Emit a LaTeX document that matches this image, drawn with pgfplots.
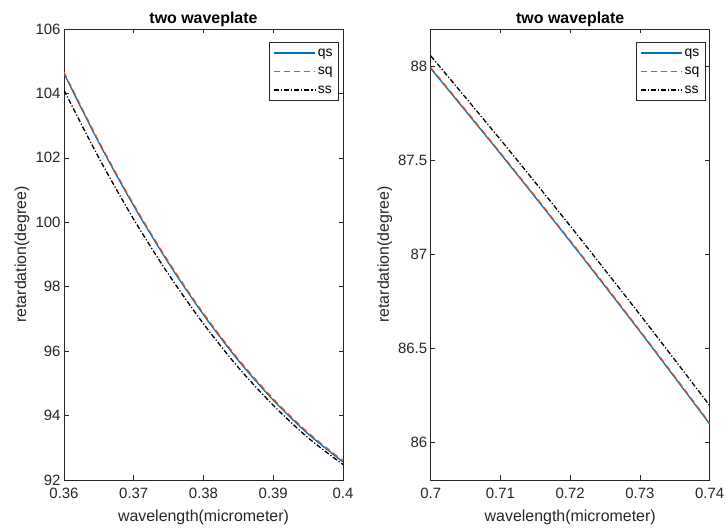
\documentclass[border=0pt]{standalone}
\usepackage{fontspec}
\setmainfont{Liberation Sans}
\usepackage{pgfplots}
\pgfplotsset{compat=1.18}
\definecolor{mblue}{rgb}{0,0.447,0.741}
\definecolor{morange}{rgb}{0.85,0.325,0.098}
\definecolor{maxis}{rgb}{0.15,0.15,0.15}
\pgfplotsset{
  mystyle/.style={
    scale only axis,
    width=279bp, height=451bp,
    axis line style={maxis, line width=0.6bp},
    tick style={maxis, line width=0.6bp},
    tick align=inside,
    major tick length=4.5bp,
    scaled ticks=false,
    /pgf/number format/assume math mode=true,
    tick label style={font=\fontsize{15}{18}\selectfont, text=maxis},
    xticklabel style={yshift=-5bp},
    label style={font=\fontsize{16}{19}\selectfont, text=maxis},
    title style={font=\fontsize{16}{19}\selectfont\bfseries, at={(axis description cs:0.5,1)}, anchor=south, yshift=-7bp},
    xlabel style={at={(axis description cs:0.5,-0.082)}, anchor=center},
    legend style={at={(axis description cs:1,1)}, anchor=north east, xshift=-4bp, yshift=-13bp,
      draw=maxis, line width=0.6bp, font=\fontsize{14}{16}\selectfont, inner xsep=3.5bp, inner ysep=1.5bp, row sep=0bp,
      nodes={inner xsep=2.5bp, inner ysep=3.25bp, text height=9bp, text depth=3bp}},
    legend cell align=left,
    legend image code/.code={\draw[#1] (0bp,0bp) -- (41bp,0bp);},
  },
  qsline/.style={color=mblue, line width=1.3bp, solid},
  sqline/.style={color=morange, line width=1.3bp, dash pattern=on 6bp off 4bp},
  ssline/.style={color=black, line width=1.3bp, dash pattern=on 5bp off 2bp on 1.2bp off 2bp},
}
\begin{document}
\begin{tikzpicture}[x=1bp,y=1bp]
\useasboundingbox (0,0) rectangle (727,531);
\begin{axis}[mystyle, at={(64bp,51bp)}, anchor=south west,
  xmin=0.36, xmax=0.4, ymin=92, ymax=106,
  xtick={0.36,0.37,0.38,0.39,0.4},
  ytick={92,94,96,98,100,102,104,106},
  title={two waveplate},
  xlabel={wavelength(micrometer)},
  ylabel={retardation(degree)},
  ylabel style={at={(axis description cs:-0.1505,0.5)}, anchor=center},
]
\addlegendimage{qsline}
\addlegendentry{qs\hspace{5bp}}
\addlegendimage{sqline}
\addlegendentry{sq\hspace{5bp}}
\addlegendimage{ssline}
\addlegendentry{ss\hspace{5bp}}
\addplot[qsline, smooth, forget plot] coordinates {
(0.360,104.62) (0.365,102.47) (0.370,100.51) (0.375,98.73) (0.380,97.13)
(0.385,95.71) (0.390,94.48) (0.395,93.43) (0.400,92.56)};
\addplot[sqline, smooth, forget plot] coordinates {
(0.360,104.66) (0.365,102.51) (0.370,100.55) (0.375,98.77) (0.380,97.17)
(0.385,95.75) (0.390,94.52) (0.395,93.47) (0.400,92.60)};
\addplot[ssline, smooth, forget plot] coordinates {
(0.360,104.10) (0.365,102.00) (0.370,100.09) (0.375,98.38) (0.380,96.85)
(0.385,95.49) (0.390,94.32) (0.395,93.31) (0.400,92.48)};
\end{axis}
\begin{axis}[mystyle, at={(430.7bp,51bp)}, anchor=south west,
  xmin=0.7, xmax=0.74, ymin=85.8, ymax=88.2,
  xtick={0.7,0.71,0.72,0.73,0.74},
  ytick={86,86.5,87,87.5,88},
  title={two waveplate},
  xlabel={wavelength(micrometer)},
  ylabel={retardation(degree)},
  ylabel style={at={(axis description cs:-0.165,0.5)}, anchor=center},
]
\addlegendimage{qsline}
\addlegendentry{qs\hspace{5bp}}
\addlegendimage{sqline}
\addlegendentry{sq\hspace{5bp}}
\addlegendimage{ssline}
\addlegendentry{ss\hspace{5bp}}
\addplot[qsline, smooth, forget plot] coordinates {
(0.700,87.990) (0.705,87.764) (0.710,87.536) (0.715,87.304) (0.720,87.069)
(0.725,86.831) (0.730,86.590) (0.735,86.345) (0.740,86.098)};
\addplot[sqline, smooth, forget plot] coordinates {
(0.700,87.995) (0.705,87.769) (0.710,87.541) (0.715,87.309) (0.720,87.074)
(0.725,86.836) (0.730,86.595) (0.735,86.350) (0.740,86.103)};
\addplot[ssline, smooth, forget plot] coordinates {
(0.700,88.057) (0.705,87.835) (0.710,87.611) (0.715,87.383) (0.720,87.152)
(0.725,86.917) (0.730,86.680) (0.735,86.439) (0.740,86.196)};
\end{axis}
\end{tikzpicture}
\end{document}
